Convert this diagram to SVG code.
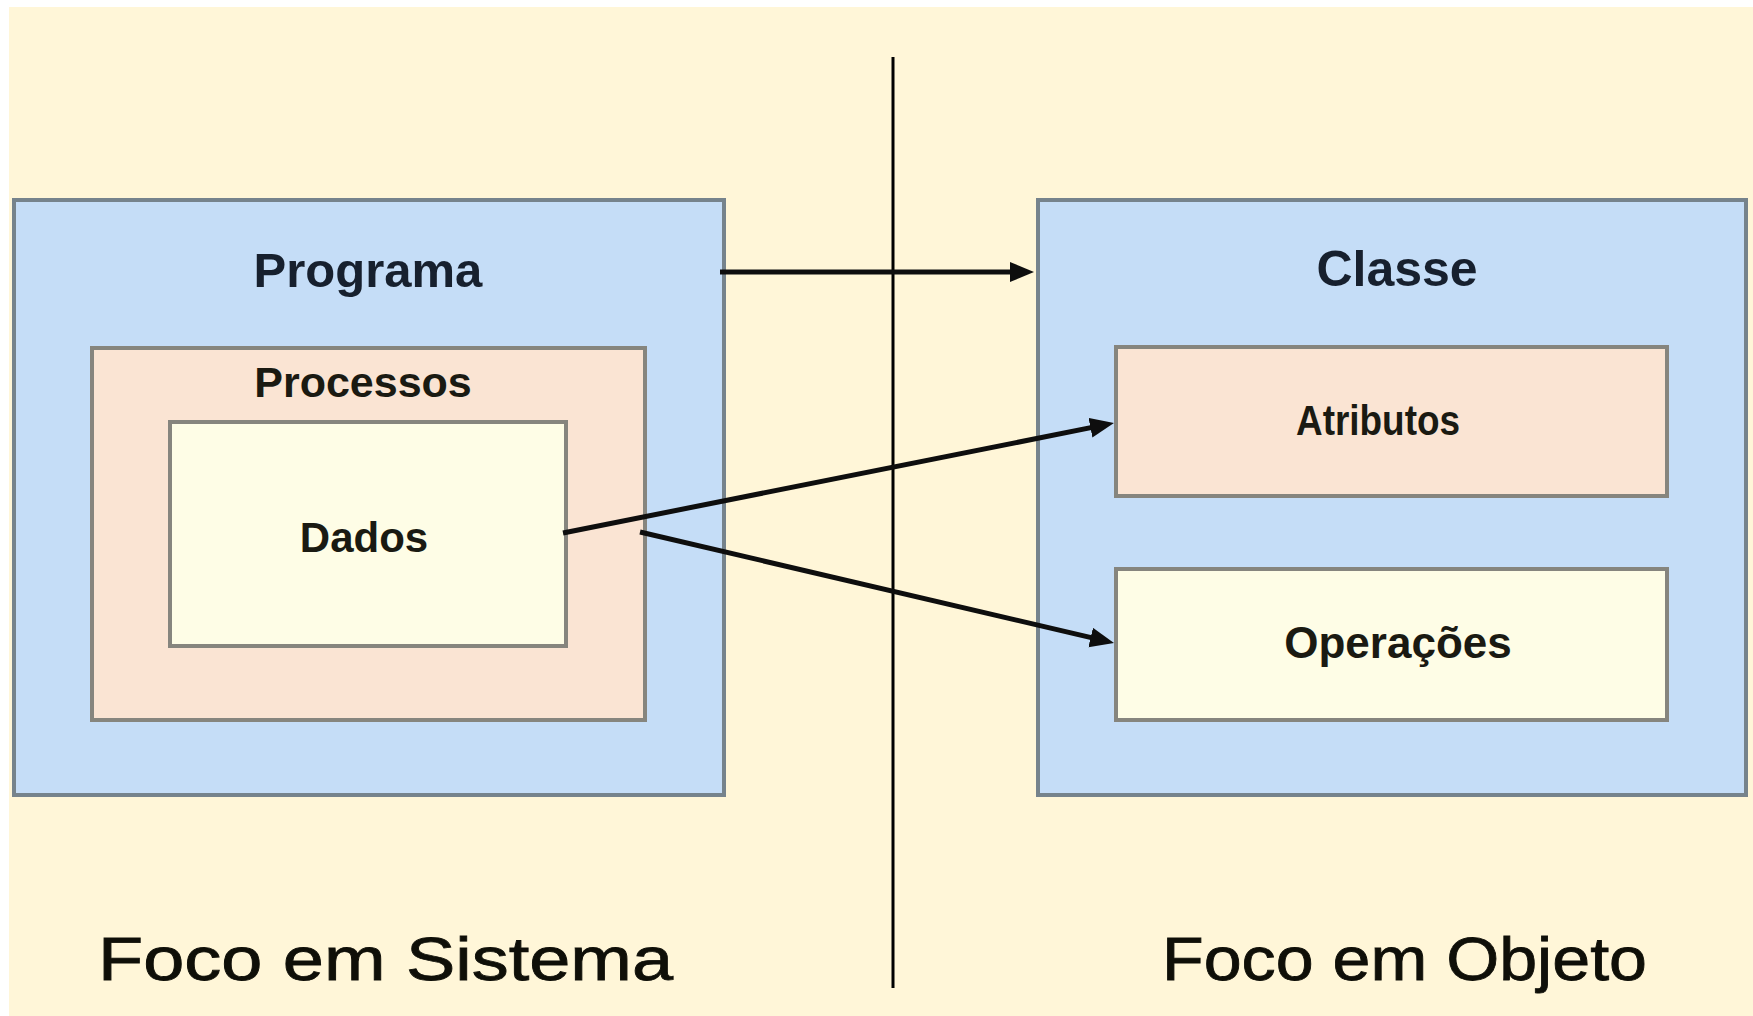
<svg xmlns="http://www.w3.org/2000/svg" width="1753" height="1016" viewBox="0 0 1753 1016">
  <defs>
    <style>
      .outer { fill: #C5DDF7; stroke: #76838C; stroke-width: 4; }
      .peach { fill: #FAE4D3; stroke: #86857E; stroke-width: 4; }
      .light { fill: #FEFDE6; stroke: #86857E; stroke-width: 4; }
      .title { font-family: "Liberation Sans", Arial, sans-serif; font-weight: bold; fill: #17202E; text-anchor: middle; }
      .label { font-family: "Liberation Sans", Arial, sans-serif; font-weight: bold; fill: #1A1A12; text-anchor: middle; }
      .focus { font-family: "Liberation Sans", Arial, sans-serif; font-size: 61px; fill: #0F0F08; stroke: #0F0F08; stroke-width: 0.8; }
      .conn { stroke: #0E0E0E; stroke-width: 5; fill: none; marker-end: url(#head); }
    </style>
    <marker id="head" markerUnits="userSpaceOnUse" markerWidth="26" markerHeight="22" refX="17" refY="10" orient="auto">
      <path d="M0,0 L24,10 L0,20 Z" fill="#0E0E0E"/>
    </marker>
  </defs>

  <!-- page background -->
  <rect x="0" y="0" width="1753" height="1016" fill="#FFFFFF"/>
  <rect x="9" y="7" width="1744" height="1009" fill="#FFF6D8"/>

  <!-- left side: system-focused view -->
  <g id="programa">
    <rect class="outer" x="14" y="200" width="710" height="595"/>
    <text class="title" x="368" y="287" font-size="49">Programa</text>
  </g>
  <g id="processos">
    <rect class="peach" x="92" y="348" width="553" height="372"/>
    <text class="label" x="363" y="397" font-size="43">Processos</text>
  </g>
  <g id="dados">
    <rect class="light" x="170" y="422" width="396" height="224"/>
    <text class="label" x="364" y="552" font-size="42">Dados</text>
  </g>

  <!-- right side: object-focused view -->
  <g id="classe">
    <rect class="outer" x="1038" y="200" width="708" height="595"/>
    <text class="title" x="1397" y="286" font-size="50">Classe</text>
  </g>
  <g id="atributos">
    <rect class="peach" x="1116" y="347" width="551" height="149"/>
    <text class="label" x="1378" y="435" font-size="42" textLength="164" lengthAdjust="spacingAndGlyphs">Atributos</text>
  </g>
  <g id="operacoes">
    <rect class="light" x="1116" y="569" width="551" height="151"/>
    <text class="label" x="1398" y="658" font-size="44">Operações</text>
  </g>

  <!-- divider and captions -->
  <g id="divisor">
    <line x1="893" y1="57" x2="893" y2="988" stroke="#000000" stroke-width="3"/>
  </g>
  <g id="legenda-sistema">
    <text class="focus" x="98" y="980" textLength="575" lengthAdjust="spacingAndGlyphs">Foco em Sistema</text>
  </g>
  <g id="legenda-objeto">
    <text class="focus" x="1162" y="980" textLength="485" lengthAdjust="spacingAndGlyphs">Foco em Objeto</text>
  </g>

  <!-- connectors -->
  <g id="conectores">
    <line class="conn" x1="720" y1="272" x2="1027" y2="272"/>
    <line class="conn" x1="563" y1="533" x2="1107.1" y2="424.4"/>
    <line class="conn" x1="640" y1="532" x2="1107.2" y2="641.4"/>
  </g>
</svg>
